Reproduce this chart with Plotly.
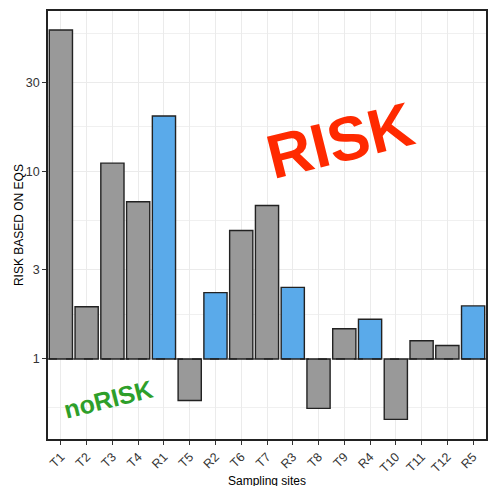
import numpy as np
import plotly.graph_objects as go

# Sampling sites and their risk ratio relative to the EQS (1 = threshold)
sites = ["T1", "T2", "T3", "T4", "R1", "T5", "R2", "T6", "T7", "R3",
         "T8", "T9", "R4", "T10", "T11", "T12", "R5"]
risk = [57.0, 1.90, 11.1, 6.9, 19.8, 0.60, 2.26, 4.85, 6.6, 2.41,
        0.545, 1.45, 1.63, 0.476, 1.25, 1.18, 1.92]
site_type = ["T", "T", "T", "T", "R", "T", "R", "T", "T", "R",
             "T", "T", "R", "T", "T", "T", "R"]

y_ticks = [1, 3, 10, 30]
y_range = [0.374, 72.0]

GREY = "#999999"
BLUE = "#5AAAEA"

colors = [BLUE if t == "R" else GREY for t in site_type]
threshold = 1.0

# Minor grid lines sit halfway (in log space) between the major breaks
breaks = [0.3] + y_ticks + [100]
minor_vals = [float(np.sqrt(a * b)) for a, b in zip(breaks[:-1], breaks[1:])]

fig = go.Figure()
fig.add_trace(go.Bar(
    x=sites,
    y=[v - threshold for v in risk],
    base=[threshold] * len(risk),
    marker=dict(color=colors, line=dict(color="#222222", width=1.4)),
    width=0.9,
    showlegend=False,
))

# Dashed threshold line at ratio = 1
fig.add_shape(type="line", xref="paper", yref="y", x0=0, x1=1,
              y0=threshold, y1=threshold,
              line=dict(color="#111111", width=1.2, dash="dash"), layer="above")

axis_font = dict(family="Liberation Sans, Arial, sans-serif", size=12.5, color="#333333")

fig.update_layout(
    width=490, height=486,
    margin=dict(l=48, r=2, t=11, b=47),
    paper_bgcolor="white", plot_bgcolor="white",
    font=dict(family="Liberation Sans, Arial, sans-serif", color="black"),
    bargap=0.1,
    xaxis=dict(
        type="category", categoryorder="array", categoryarray=sites,
        range=[-0.5, len(sites) - 0.5],
        showgrid=True, gridcolor="#EBEBEB", gridwidth=1.1,
        showline=True, mirror=True, linecolor="#222222", linewidth=1.5,
        ticks="outside", ticklen=4, tickcolor="#333333", tickwidth=1,
        tickangle=-45, tickfont=axis_font,
        zeroline=False,
    ),
    yaxis=dict(
        type="log",
        range=[np.log10(y_range[0]), np.log10(y_range[1])],
        tickmode="array", tickvals=y_ticks, ticktext=[str(v) for v in y_ticks],
        showgrid=True, gridcolor="#EBEBEB", gridwidth=1.1,
        minor=dict(tickmode="array", tickvals=minor_vals, showgrid=True,
                   gridcolor="#F0F0F0", gridwidth=0.8, ticks=""),
        showline=True, mirror=True, linecolor="#222222", linewidth=1.5,
        ticks="outside", ticklen=4, tickcolor="#333333", tickwidth=1,
        tickfont=axis_font, zeroline=False,
    ),
)

# Axis titles
fig.add_annotation(text="Sampling sites", xref="paper", yref="paper",
                   x=0.5, y=-0.098, xanchor="center", yanchor="middle",
                   showarrow=False, font=dict(size=12, color="black"))
fig.add_annotation(text="RISK BASED ON EQS", xref="paper", yref="paper",
                   x=-0.066, y=0.5, xanchor="center", yanchor="middle",
                   textangle=-90, showarrow=False, font=dict(size=12, color="black"))

# Region labels
fig.add_annotation(text="<b>RISK</b>", xref="paper", yref="paper",
                   x=0.6675, y=0.697, xanchor="center", yanchor="middle",
                   textangle=-14, showarrow=False,
                   font=dict(family="Liberation Sans, Arial, sans-serif",
                             size=62, color="#FF2A00"))
fig.add_annotation(text="<b>noRISK</b>", xref="paper", yref="paper",
                   x=0.1375, y=0.094, xanchor="center", yanchor="middle",
                   textangle=-14, showarrow=False,
                   font=dict(family="Liberation Sans, Arial, sans-serif",
                             size=25, color="#2E9F2A"))

fig.write_html("out.html")
